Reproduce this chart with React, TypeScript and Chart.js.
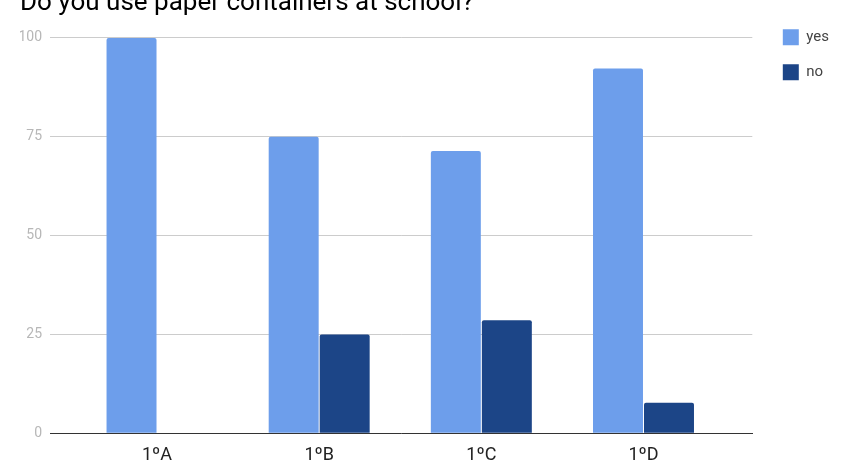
import React, { useEffect, useRef } from "react";
import { Chart, registerables } from "chart.js";

Chart.register(...registerables);

const title = "Do you use paper containers at school?";
const categories = ["1ºA", "1ºB", "1ºC", "1ºD"];
const yesValues = [100, 75, 71.4, 92.3];
const noValues = [0, 25, 28.6, 7.7];
const yTicks = [0, 25, 50, 75, 100];

export default function App() {
  const canvasRef = useRef<HTMLCanvasElement | null>(null);

  useEffect(() => {
    if (!canvasRef.current) return;
    Chart.defaults.font.family = "Roboto";
    const chart = new Chart(canvasRef.current, {
      type: "bar",
      data: {
        datasets: [
          {
            label: "yes",
            data: categories.map((_, i) => ({ x: i, y: yesValues[i] })),
            backgroundColor: "#6d9eeb",
            borderRadius: 2,
            borderSkipped: "bottom",
            categoryPercentage: 0.629,
            barPercentage: 0.98,
          },
          {
            label: "no",
            data: categories.map((_, i) => ({ x: i, y: noValues[i] })),
            backgroundColor: "#1c4587",
            borderRadius: 2,
            borderSkipped: "bottom",
            categoryPercentage: 0.629,
            barPercentage: 0.98,
          },
        ],
      },
      options: {
        animation: false,
        responsive: true,
        maintainAspectRatio: false,
        layout: { padding: { left: 20, right: 0, top: 0, bottom: 0 } },
        plugins: {
          title: {
            display: true,
            text: title,
            align: "start",
            color: "#000",
            font: { size: 26, weight: "normal", lineHeight: 0.8 },
            padding: { top: 0, bottom: 0 },
          },
          legend: {
            position: "right",
            align: "start",
            title: {
              display: true,
              text: " ",
              font: { size: 17.2, lineHeight: 1 },
              padding: 0,
            },
            labels: {
              boxWidth: 16,
              boxHeight: 16,
              padding: 19,
              color: "#444",
              font: { size: 15 },
            },
          },
          tooltip: { enabled: false },
        },
        scales: {
          x: {
            type: "linear",
            offset: false,
            min: -0.66,
            max: 3.671,
            grid: { display: false, drawTicks: false },
            border: { display: true, color: "#333", width: 1 },
            afterBuildTicks: (s: any) => {
              s.ticks = categories.map((_, i) => ({ value: i }));
            },
            afterFit: (s: any) => {
              s.height = 31.7;
            },
            ticks: {
              padding: 11,
              color: "#222",
              font: { size: 18 },
              maxRotation: 0,
              autoSkip: false,
              callback: (v: any) => categories[v as number] ?? "",
            },
          },
          y: {
            min: 0,
            max: 106.12,
            grid: { color: "#cccccc", drawTicks: false },
            border: { display: false },
            afterBuildTicks: (s: any) => {
              s.ticks = yTicks.map((v) => ({ value: v }));
            },
            afterFit: (s: any) => {
              s.width = 30;
            },
            ticks: {
              padding: 8,
              color: "#b7b7b7",
              font: { size: 14 },
            },
          },
          gap: {
            type: "linear",
            position: "right",
            display: true,
            grid: { display: false, drawTicks: false },
            border: { display: false },
            ticks: { display: false },
            afterFit: (s: any) => {
              s.width = 11.5;
            },
          },
        },
      },
    });
    return () => chart.destroy();
  }, []);

  return (
    <div
      style={{
        position: "fixed",
        left: 0,
        top: 0,
        width: 854,
        height: 465,
        overflow: "hidden",
        background: "#fff",
      }}
    >
      <div style={{ position: "absolute", left: 0, top: -7, width: 839, height: 472 }}>
        <canvas ref={canvasRef} />
      </div>
    </div>
  );
}
